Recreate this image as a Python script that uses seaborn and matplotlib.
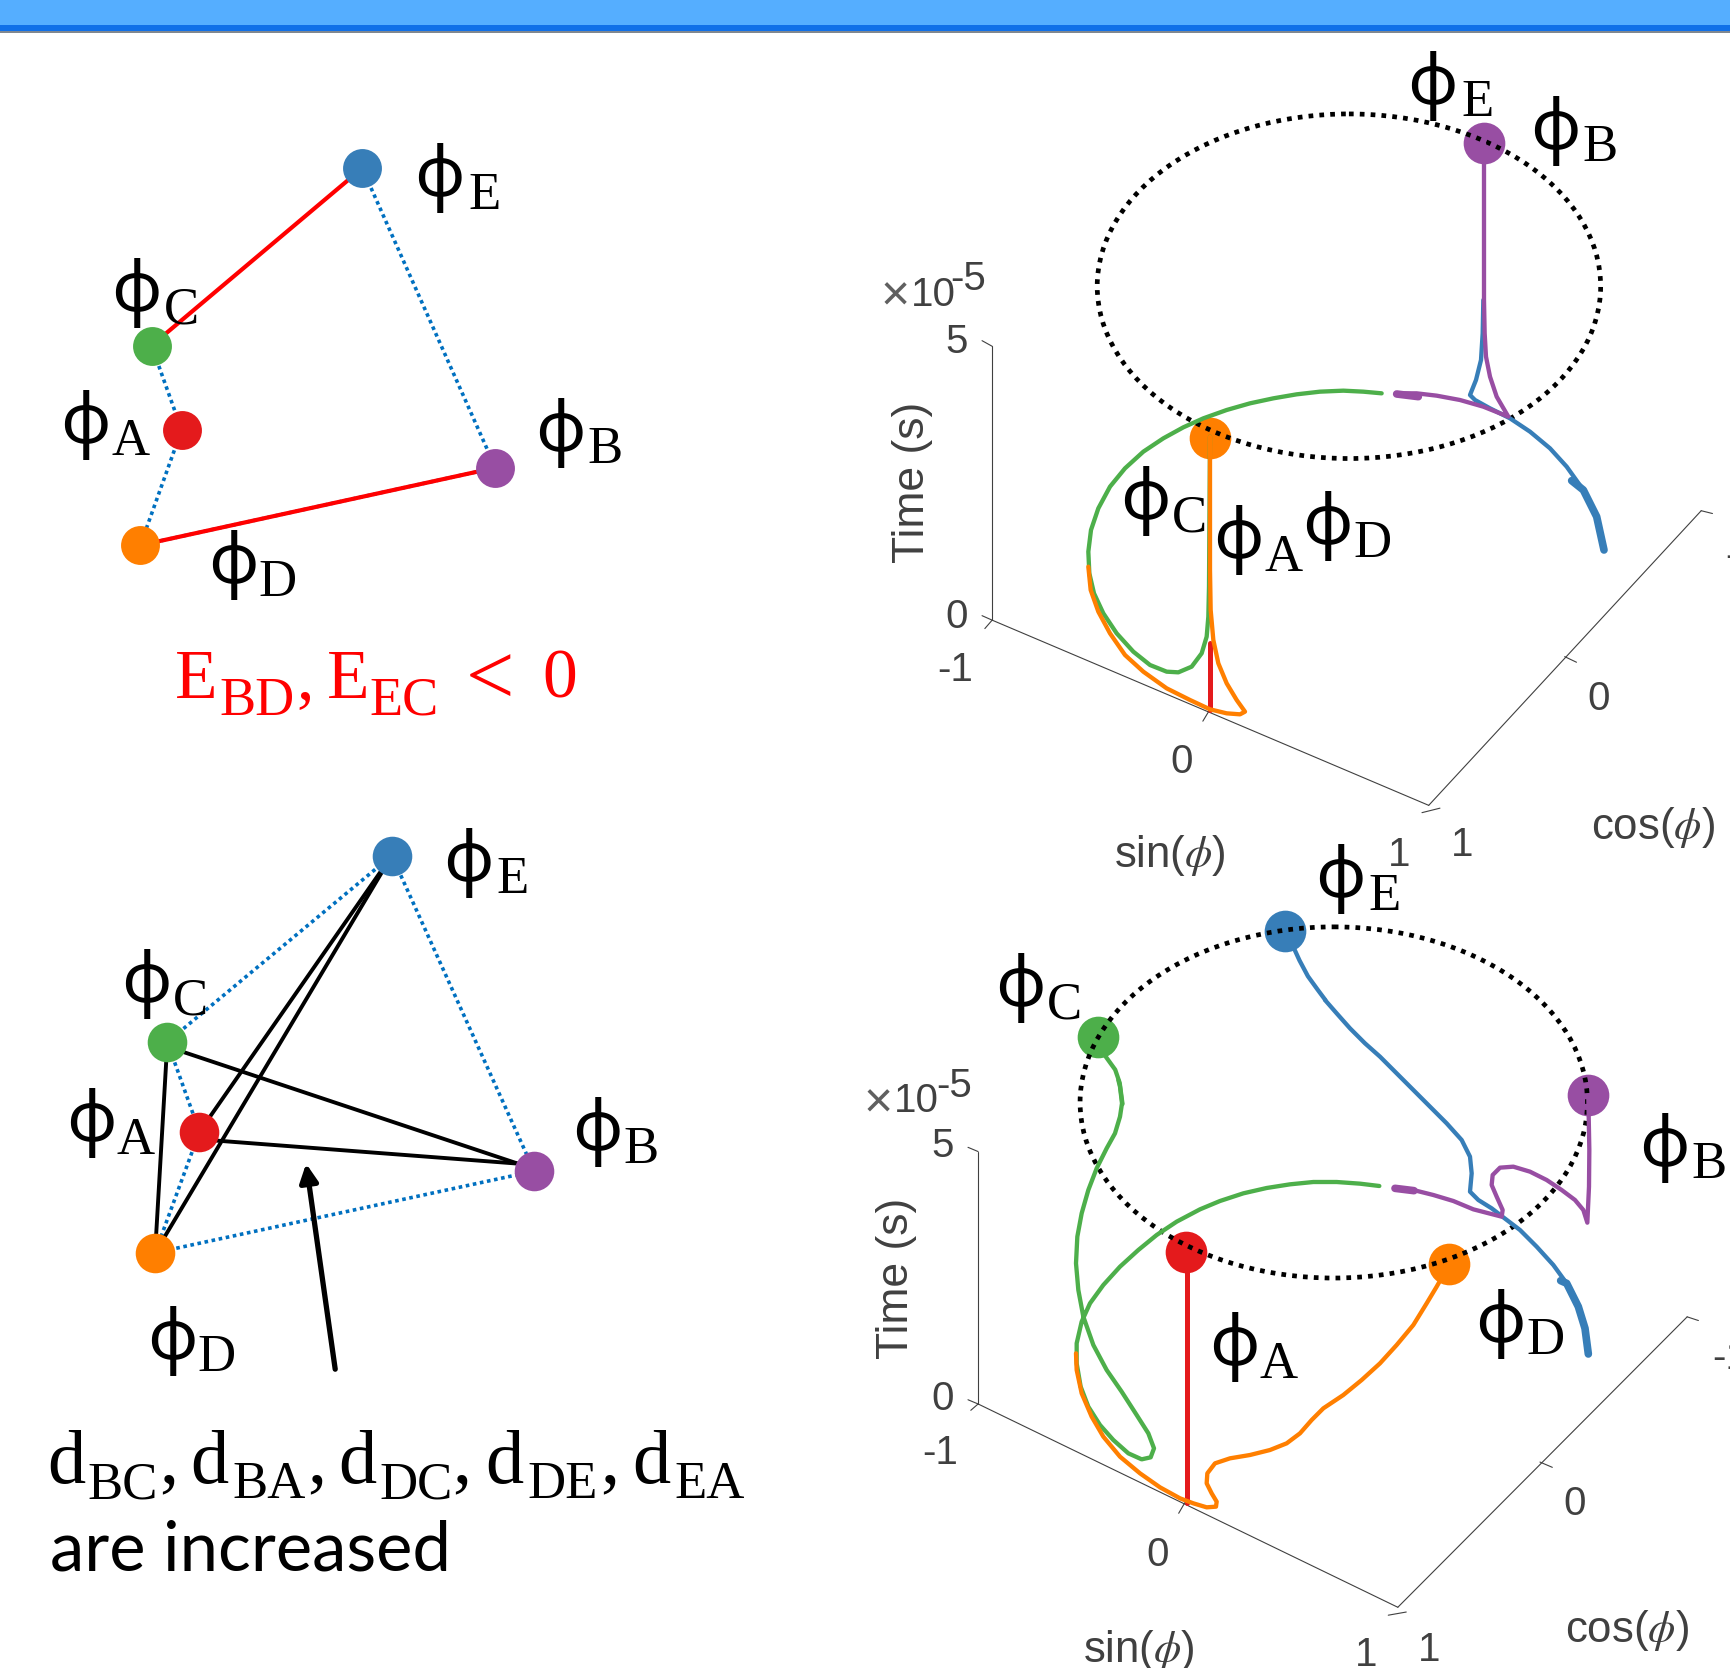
#!/usr/bin/env python3
"""
Kuramoto-style phase sketches: node graphs on the left, phase trajectories on the right
Coordinates are read off the picture, each group on the grid of its own panel
"""

import matplotlib
matplotlib.use("Agg")
import matplotlib.pyplot as plt
from matplotlib.patches import Ellipse
import seaborn as sns

sns.set_theme(style="white")
plt.rcParams['mathtext.fontset'] = 'stix'

W, H = 1731, 1668
SERIF = ['Liberation Serif', 'DejaVu Serif']
PHI_FONT = ['Noto Sans', 'DejaVu Serif']
SANS = ['Liberation Sans', 'DejaVu Sans']
GRAY = '#404040'

palette = sns.color_palette("Set1")
COLORS = {'A': palette[0], 'E': palette[1], 'C': palette[2], 'B': palette[3], 'D': palette[4]}
DOT_BLUE = '#0070C0'
DOTTED = (0, (1, 1))
RING_DOTS = (0, (1, 1.3))
LW = 3.1
LW_THICK = 5.5
LW_RED = 3.6

# Panel rectangles in figure pixels: x, y, width, height, grid width, grid height
PANEL_TL = (0, 0, 800, 760, 1568, 1568)
PANEL_BL = (0, 760, 800, 908, 1568, 1568)
PANEL_TR = (850, 0, 881, 880, 1568, 1568)
PANEL_BR = (850, 840, 881, 828, 1568, 1568)
CURVES_TR_LEFT = (1070, 370, 440, 440, 1320, 1320)
CURVES_TR_RIGHT = (1350, 200, 300, 360, 900, 1080)
CURVES_BR_LEFT = (1060, 1080, 440, 440, 1320, 1320)
CURVES_BR_RIGHT = (1270, 1000, 440, 440, 1320, 1320)

# Top left graph
tl_nodes = {'E': (710, 347), 'C': (297, 713), 'A': (356, 887), 'D': (275, 1125), 'B': (971, 965)}
tl_labels = {'E': (862, 365), 'C': (268, 602), 'A': (168, 873), 'B': (1098, 890), 'D': (457, 1163)}
tl_dotted = [('E', 'B'), ('C', 'A'), ('A', 'D'), ('D', 'B')]
tl_red = [('E', 'C'), ('D', 'B')]

# Bottom left graph
bl_nodes = {'E': (768, 165), 'C': (328, 487), 'A': (391, 642), 'B': (1047, 710), 'D': (304, 851)}
bl_labels = {'E': (918, 175), 'C': (287, 385), 'A': (178, 625), 'B': (1170, 640), 'D': (337, 1000)}
bl_dotted = [('E', 'C'), ('E', 'B'), ('C', 'A'), ('A', 'D'), ('D', 'B')]
bl_black_x = [(328, 304), (768, 391), (768, 304), (328, 1015), (391, 1015)]
bl_black_y = [(487, 851), (165, 642), (165, 851), (495, 697), (655, 697)]

# Red formula pieces: text, x, baseline y, size
formula_text = ['E', 'BD', ',', 'E', 'EC', '<', '0']
formula_x = [385, 503, 598, 682, 792, 960, 1097]
formula_y = [1440, 1475, 1440, 1440, 1475, 1452, 1440]
formula_size = [50, 39, 50, 50, 39, 62, 50]

# Distance row pieces
dist_text = ['d', 'BC', ',', 'd', 'BA', ',', 'd', 'DC', ',', 'd', 'DE', ',', 'd', 'EA']
dist_x = [130, 240, 330, 410, 527, 620, 700, 815, 905, 988, 1103, 1195, 1277, 1390]
dist_y = [1248, 1275, 1248] * 4 + [1248, 1275]
dist_size = [55, 38, 55] * 4 + [55, 38]

# Top right trajectories (grid of CURVES_TR_LEFT)
tr_green_x = [935, 880, 820, 750, 680, 610, 540, 470, 400, 340, 280, 220, 165, 120, 85, 63, 55, 58, 72, 100,
              140, 190, 240, 290, 325, 365, 395, 410, 415, 417, 420]
tr_green_y = [70, 65, 62, 65, 73, 85, 100, 120, 145, 172, 205, 245, 295, 350, 415, 480, 545, 610, 670, 730,
              790, 845, 885, 905, 907, 890, 850, 800, 740, 650, 200]
tr_orange_x = [420, 420, 422, 430, 445, 470, 500, 525, 510, 470, 420, 360, 290, 220, 165, 120, 85, 62, 55]
tr_orange_y = [200, 600, 720, 810, 880, 940, 990, 1025, 1033, 1030, 1018, 990, 955, 905, 855, 790, 725, 660, 590]
tr_red_x = [420, 420]
tr_red_y = [820, 1020]

# Top right trajectories (grid of CURVES_TR_RIGHT)
tr_purple_x = [402, 402, 404, 408, 420, 440, 475, 400, 330, 260, 200, 140]
tr_purple_y = [-171, 300, 400, 470, 530, 590, 650, 620, 600, 587, 580, 580]
tr_purple_thick_x = [140, 205]
tr_purple_thick_y = [582, 590]
tr_blue_x = [400, 398, 393, 378, 360, 375, 420, 480, 540, 600, 650, 700, 740, 762]
tr_blue_y = [300, 400, 480, 540, 585, 600, 625, 655, 695, 745, 800, 870, 950, 1050]
tr_blue_thick_x = [665, 700, 740, 762]
tr_blue_thick_y = [842, 870, 950, 1050]

tr_markers = {'B': (1128, 255), 'D': (640, 780)}
tr_labels = {'E': (1037, 150), 'B': (1255, 230), 'C': (525, 890), 'A': (692, 960), 'D': (850, 935)}

# Bottom right trajectories (grid of CURVES_BR_LEFT)
br_green_x = [958, 900, 830, 760, 690, 620, 550, 480, 420, 350, 290, 235, 180, 130, 90, 65, 50, 50, 62, 85, 120,
              160, 205, 245, 272, 282, 265, 230, 185, 140, 100, 70, 55, 48, 52, 65, 85, 110, 140, 165, 180, 186,
              180, 175]
br_green_y = [318, 311, 306, 306, 313, 324, 340, 363, 388, 425, 465, 510, 560, 615, 670, 725, 790, 850, 920, 980,
              1035, 1080, 1120, 1138, 1132, 1105, 1060, 1005, 935, 870, 795, 710, 630, 550, 470, 400, 330, 265,
              205, 160, 110, 70, 20, 0]
br_green_top_x = [485, 480, 472, 455, 441]  # grid of PANEL_BR
br_green_top_y = [500, 460, 435, 410, 373]
br_orange_x = [1167, 1130, 1100, 1060, 1010, 960, 905, 850, 790, 755, 720, 680, 630, 570, 510, 465, 442, 440, 455,
               470, 468, 440, 400, 360, 300, 240, 180, 130, 95, 65, 50, 48]
br_orange_y = [555, 620, 670, 735, 795, 850, 900, 945, 985, 1020, 1060, 1090, 1110, 1125, 1135, 1150, 1180, 1210,
               1240, 1265, 1280, 1282, 1270, 1255, 1222, 1180, 1130, 1070, 1010, 940, 870, 820]
br_red_x = [380, 380]
br_red_y = [515, 1270]

# Bottom right trajectories (grid of CURVES_BR_RIGHT)
br_blue_x = [165, 200, 240, 285, 330, 380, 430, 480, 530, 575, 600, 605, 600, 625, 665, 700, 750, 800, 850, 890,
             925, 945, 955]
br_blue_y = [0, 40, 85, 130, 170, 220, 270, 320, 370, 420, 470, 520, 575, 600, 625, 652, 690, 740, 795, 850, 920,
             985, 1062]
br_blue_thick_x = [872, 890, 925, 945, 955]
br_blue_thick_y = [842, 850, 920, 985, 1062]
br_blue_top_x = [775, 788, 800, 815, 832, 846]  # grid of PANEL_BR
br_blue_top_y = [172, 200, 228, 258, 283, 303]
br_purple_x = [375, 430, 490, 550, 610, 695, 698, 680, 665, 668, 690, 730, 780, 830, 875, 915, 940, 952, 957, 958,
               955]
br_purple_y = [565, 570, 585, 603, 628, 650, 630, 590, 555, 525, 503, 500, 515, 540, 570, 600, 630, 668, 560, 450,
               290]
br_purple_thick_x = [375, 432]
br_purple_thick_y = [565, 572]

br_markers = {'A': (598, 780), 'D': (1066, 803), 'C': (441, 373), 'E': (775, 172), 'B': (1314, 483)}
br_labels = {'E': (873, 72), 'C': (303, 278), 'B': (1450, 580), 'A': (684, 958), 'D': (1158, 913)}


def make_panel(rect):
    x, y, w, h, grid_w, grid_h = rect
    ax = fig.add_axes([x / W, 1 - (y + h) / H, w / W, h / H])
    ax.set_xlim(0, grid_w)
    ax.set_ylim(grid_h, 0)
    ax.autoscale(False)
    ax.set_axis_off()
    return ax


def draw_line(ax, xs, ys, color, lw, zorder=2, **kws):
    sns.lineplot(x=list(xs), y=list(ys), sort=False, estimator=None, color=color, linewidth=lw,
                 zorder=zorder, legend=False, clip_on=False, ax=ax, **kws)


def draw_markers(ax, nodes, size):
    for key, (x, y) in nodes.items():
        sns.scatterplot(x=[x], y=[y], color=[COLORS[key]], s=size ** 2, linewidth=0,
                        zorder=3, legend=False, ax=ax)


def draw_phi(ax, labels):
    for key, (x, y) in labels.items():
        ax.annotate('ϕ', xy=(x, y), xytext=(0, -14), textcoords='offset points', ha='center',
                    va='baseline', fontsize=50, family=PHI_FONT, color='black', zorder=4)
        ax.annotate(key, xy=(x, y), xytext=(32, -23), textcoords='offset points', ha='center',
                    va='baseline', fontsize=38, family=SERIF, color='black', zorder=4)


def connect(ax, nodes, pairs, color, lw, **kws):
    for a, b in pairs:
        draw_line(ax, [nodes[a][0], nodes[b][0]], [nodes[a][1], nodes[b][1]], color, lw, **kws)


def draw_frame(ax, corner, front, back, top, ticks):
    # box edges of the projected 3D axes
    for p, q in [(top, corner), (corner, front), (front, back)]:
        draw_line(ax, [p[0], q[0]], [p[1], q[1]], GRAY, 0.8)
    for p, q in ticks:
        draw_line(ax, [p[0], q[0]], [p[1], q[1]], GRAY, 0.8)


def draw_axis_text(ax, tick_text, tick_x, tick_y, cut_xy, time_xy, sin_xy, cos_xy, exp_x, exp_y):
    for s, x, y in zip(tick_text, tick_x, tick_y):
        ax.text(x, y, s, fontsize=29, family=SANS, color=GRAY, ha='center', va='center')
    ax.text(*cut_xy, '-1', fontsize=29, family=SANS, color=GRAY, ha='left', va='center')
    for s, x, y, size in zip(['×', '10', '-5'], exp_x, exp_y, [36, 29, 29]):
        ax.text(x, y, s, fontsize=size, family=SANS, color='#606060' if s == '×' else GRAY,
                ha='center', va='center')
    ax.text(*time_xy, 'Time (s)', fontsize=32, family=SANS, color=GRAY, rotation=90, ha='center', va='center')
    ax.text(*sin_xy, r'sin($\phi$)', fontsize=31.5, family=SANS, color=GRAY, ha='center', va='center')
    ax.text(*cos_xy, r'cos($\phi$)', fontsize=31.5, family=SANS, color=GRAY, ha='center', va='center')


fig = plt.figure(figsize=(W / 100, H / 100), dpi=100, facecolor='white')

# Header band
ax_bg = make_panel((0, 0, W, H, W, H))
ax_bg.axhspan(0, 25, color='#55AEFF', lw=0)
ax_bg.axhspan(25, 31, color='#1070E8', lw=0)
ax_bg.axhspan(31, 32.5, color='#808890', lw=0)

# Top left
ax = make_panel(PANEL_TL)
connect(ax, tl_nodes, tl_dotted, DOT_BLUE, 2.6, linestyle=DOTTED)
connect(ax, tl_nodes, tl_red, 'red', 3)
draw_markers(ax, tl_nodes, 28)
draw_phi(ax, tl_labels)
for s, x, y, size in zip(formula_text, formula_x, formula_y, formula_size):
    ax.text(x, y, s, fontsize=size, family=SERIF, color='red', ha='center', va='baseline')

# Bottom left
ax = make_panel(PANEL_BL)
connect(ax, bl_nodes, bl_dotted, DOT_BLUE, 2.6, linestyle=DOTTED)
for xs, ys in zip(bl_black_x, bl_black_y):
    draw_line(ax, xs, ys, 'black', 2.8)
draw_markers(ax, bl_nodes, 28.5)
draw_phi(ax, bl_labels)
ax.annotate('', xy=(600, 697), xytext=(657, 1052),
            arrowprops=dict(arrowstyle='-|>,head_length=0.9,head_width=0.45', color='black', lw=3.8,
                            shrinkA=0, shrinkB=0))
for s, x, y, size in zip(dist_text, dist_x, dist_y, dist_size):
    ax.text(x, y, s, fontsize=size, family=SERIF, color='black', ha='center', va='baseline')
ax.text(98, 1400, 'are increased', fontsize=49.5, family=['Lato', 'DejaVu Sans'], color='black',
        ha='left', va='baseline')

# Top right
ax = make_panel(PANEL_TR)
draw_frame(ax, (253, 1105), (1030, 1435), (1515, 910), (253, 617),
           [((235, 607), (253, 617)), ((240, 1120), (253, 1105)), ((235, 1097), (253, 1105)),
            ((628, 1285), (640, 1265)), ((1018, 1448), (1050, 1440)), ((1272, 1170), (1293, 1180)),
            ((1515, 910), (1535, 915))])
draw_markers(ax, tr_markers, 30)
draw_phi(ax, tr_labels)
ax.add_patch(Ellipse((888, 510), 896, 614, fill=False, edgecolor='black', lw=3.4,
                     linestyle=RING_DOTS, zorder=5))
draw_axis_text(ax, ['5', '0', '-1', '0', '1', '1', '0'],
               [190, 190, 187, 590, 978, 1090, 1333], [609, 1099, 1193, 1358, 1524, 1506, 1246],
               (1558, 991), (112, 860), (570, 1525), (1430, 1475), [80, 148, 210], [531, 526, 498])

ax = make_panel(CURVES_TR_LEFT)
ax.set_zorder(0.5)
draw_line(ax, tr_green_x, tr_green_y, COLORS['C'], LW)
draw_line(ax, tr_red_x, tr_red_y, COLORS['A'], LW_RED)
draw_line(ax, tr_orange_x, tr_orange_y, COLORS['D'], LW)

ax = make_panel(CURVES_TR_RIGHT)
ax.set_zorder(0.5)
draw_line(ax, tr_blue_x, tr_blue_y, COLORS['E'], LW)
draw_line(ax, tr_blue_thick_x, tr_blue_thick_y, COLORS['E'], LW_THICK)
draw_line(ax, tr_purple_x, tr_purple_y, COLORS['B'], LW)
draw_line(ax, tr_purple_thick_x, tr_purple_thick_y, COLORS['B'], LW_THICK)

# Bottom right
ax = make_panel(PANEL_BR)
draw_frame(ax, (228, 1068), (975, 1453), (1490, 903), (228, 590),
           [((210, 582), (228, 590)), ((215, 1080), (228, 1068)), ((210, 1060), (228, 1068)),
            ((585, 1275), (597, 1253)), ((958, 1468), (990, 1462)), ((1228, 1178), (1250, 1188)),
            ((1490, 903), (1510, 910))])
draw_line(ax, br_green_top_x, br_green_top_y, COLORS['C'], LW)
draw_line(ax, br_blue_top_x, br_blue_top_y, COLORS['E'], LW)
draw_markers(ax, br_markers, 30)
draw_phi(ax, br_labels)
ax.add_patch(Ellipse((861, 497), 903, 665, fill=False, edgecolor='black', lw=3.4,
                     linestyle=RING_DOTS, zorder=5))
draw_axis_text(ax, ['5', '0', '-1', '0', '1', '1', '0'],
               [165, 165, 160, 547, 918, 1030, 1290], [579, 1058, 1161, 1354, 1544, 1533, 1258],
               (1535, 981), (82, 830), (515, 1535), (1383, 1497), [50, 118, 185], [501, 494, 466])

ax = make_panel(CURVES_BR_LEFT)
ax.set_zorder(0.5)
draw_line(ax, br_green_x, br_green_y, COLORS['C'], LW)
draw_line(ax, br_red_x, br_red_y, COLORS['A'], LW_RED)
draw_line(ax, br_orange_x, br_orange_y, COLORS['D'], LW)

ax = make_panel(CURVES_BR_RIGHT)
ax.set_zorder(0.5)
draw_line(ax, br_blue_x, br_blue_y, COLORS['E'], LW)
draw_line(ax, br_blue_thick_x, br_blue_thick_y, COLORS['E'], LW_THICK)
draw_line(ax, br_purple_x, br_purple_y, COLORS['B'], LW)
draw_line(ax, br_purple_thick_x, br_purple_thick_y, COLORS['B'], LW_THICK)

plt.savefig("out.png", dpi=100)
plt.close()
